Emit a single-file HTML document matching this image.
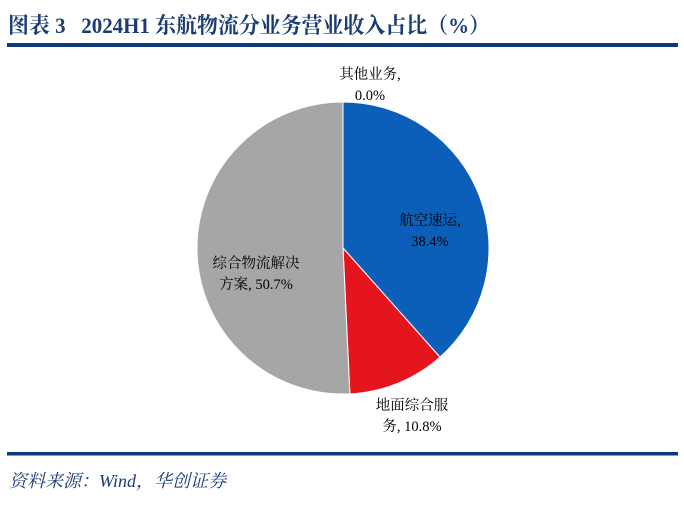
<!DOCTYPE html>
<html><head><meta charset="utf-8"><style>
body{margin:0;background:#fff;width:684px;height:504px;overflow:hidden}
svg text{font-family:"Liberation Serif","Noto Serif CJK SC",serif}
</style></head><body>
<svg width="684" height="504" viewBox="0 0 684 504">
<text x="8" y="33" font-size="22" font-weight="bold" fill="#1b3d73" textLength="482" lengthAdjust="spacingAndGlyphs">图表 3 &#160; 2024H1 东航物流分业务营业收入占比（%）</text>
<rect x="7" y="43" width="671" height="4" fill="#0d3a78"/>
<g id="pie"></g>
<g id="labels" font-size="14.5" fill="#000" text-anchor="middle"></g>
<rect x="7" y="452" width="671" height="3.5" fill="#0d3a78"/>
<text x="9" y="487" font-size="18" font-style="italic" fill="#1b3d73">资料来源：Wind，华创证券</text>
</svg>
<script>
const categories=["航空速运","地面综合服务","综合物流解决方案","其他业务"];
const values=[38.4,10.8,50.7,0.0];
const colors=["#0b5fb8","#e5151e","#a6a6a6","#7f7f7f"];
const labelLines=[["航空速运,","38.4%"],["地面综合服","务, 10.8%"],["综合物流解决","方案, 50.7%"],["其他业务,","0.0%"]];
const labelPos=[[430,225],[412,410],[256,268],[370,79]];
const cx=343,cy=248,r=146;
const ns="http://www.w3.org/2000/svg";
const pie=document.getElementById('pie'),lab=document.getElementById('labels');
const total=values.reduce((a,b)=>a+b,0);
let a0=-Math.PI/2;
values.forEach((v,i)=>{
  const a1=a0+v/total*2*Math.PI;
  if(v>0){
    const p=document.createElementNS(ns,'path');
    const large=(a1-a0)>Math.PI?1:0;
    p.setAttribute('d',`M${cx},${cy}L${cx+r*Math.cos(a0)},${cy+r*Math.sin(a0)}A${r},${r} 0 ${large} 1 ${cx+r*Math.cos(a1)},${cy+r*Math.sin(a1)}Z`);
    p.setAttribute('fill',colors[i]);p.setAttribute('stroke','#fff');p.setAttribute('stroke-width','1');
    
    
    pie.appendChild(p);
  }
  a0=a1;
  const t=document.createElementNS(ns,'text');
  
  
  labelLines[i].forEach((s,j)=>{
    const ts=document.createElementNS(ns,'tspan');
    ts.setAttribute('x',labelPos[i][0]);ts.setAttribute('y',labelPos[i][1]+j*21);
    ts.textContent=s;t.appendChild(ts);
  });
  lab.appendChild(t);
});
</script>
</body></html>
